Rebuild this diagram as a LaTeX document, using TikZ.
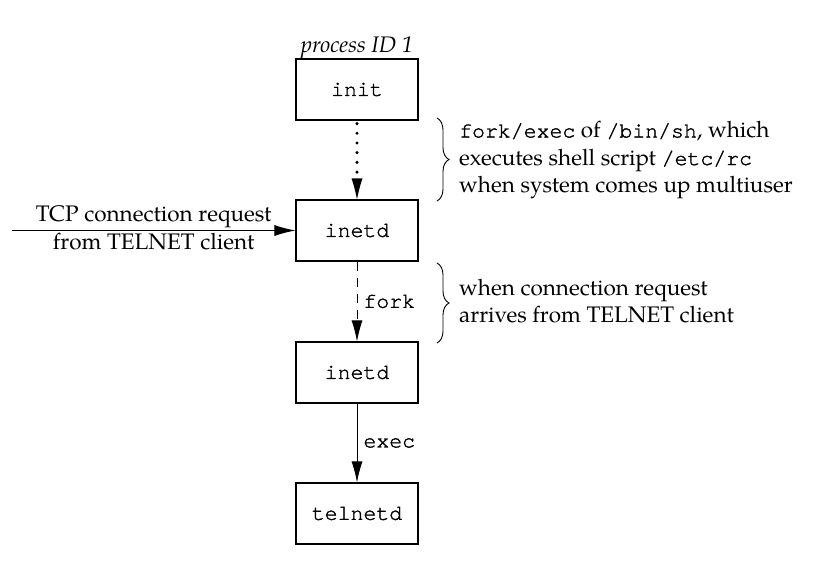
\documentclass[tikz,border=0pt]{standalone}
\usepackage{fontspec}
\setmainfont{TeX Gyre Pagella}
\setmonofont[FakeBold=1.5]{TeX Gyre Cursor}
\usetikzlibrary{arrows.meta,decorations.pathreplacing}
\begin{document}
\begin{tikzpicture}[x=1pt,y=-1pt,
  proc/.style={draw, line width=1.1pt, minimum width=122pt, minimum height=61pt,
    inner sep=0pt, font=\fontsize{21.5}{25}\selectfont\ttfamily},
  conn/.style={line width=0.9pt, -{Latex[length=21pt,width=11pt]}},
  lbl/.style={font=\fontsize{22.5}{27.5}\selectfont},
  arrlbl/.style={right, inner sep=0pt, xshift=6pt, font=\fontsize{21.5}{25}\selectfont\ttfamily},
  bracestyle/.style={line width=0.9pt, decorate, decoration={brace, amplitude=12pt}}
]
\useasboundingbox (0,0) rectangle (822,571);
\node[proc] (init) at (357,89.5) {init};
\node[proc] (inetdA) at (357,230.5) {inetd};
\node[proc] (inetdB) at (357,372.5) {inetd};
\node[proc] (telnetd) at (357,513.5) {telnetd};
\node[lbl, anchor=base] (pid) at (357,52) {\itshape process ID 1};
\coordinate (tcpstart) at (12,230.5);
\draw[conn, dash pattern=on 0pt off 9.7pt, line cap=round, line width=3.4pt,
      -{Latex[length=21pt,width=11pt,line width=0pt]}] ([yshift=-3pt]init.south) -- (inetdA);
\draw[conn] (tcpstart) -- node[lbl, above, inner sep=2pt] {TCP connection request}
   node[lbl, below, inner sep=2pt] {from TELNET client} (inetdA);
\draw[conn, dash pattern=on 9pt off 7pt] (inetdA) -- node[arrlbl] (fork) {fork} (inetdB);
\draw[conn] (inetdB) -- node[arrlbl] (exec) {exec} (telnetd);
\coordinate (b1t) at (437,118);
\coordinate (b1b) at (437,201);
\coordinate (b2t) at (437,263);
\coordinate (b2b) at (437,343);
\draw[bracestyle] (b1t) -- (b1b);
\draw[bracestyle] (b2t) -- (b2b);
\node[lbl, align=left, anchor=west, inner sep=0pt] (t1) at (459,160)
  {\texttt{\fontsize{21.5}{27.5}\selectfont fork/exec} of \texttt{\fontsize{21.5}{27.5}\selectfont /bin/sh}, which\\
   executes shell script \texttt{\fontsize{21.5}{27.5}\selectfont /etc/rc}\\
   when system comes up multiuser};
\node[lbl, align=left, anchor=west, inner sep=0pt] (t2) at (459,301)
  {when connection request\\
   arrives from TELNET client};
\end{tikzpicture}
\end{document}
